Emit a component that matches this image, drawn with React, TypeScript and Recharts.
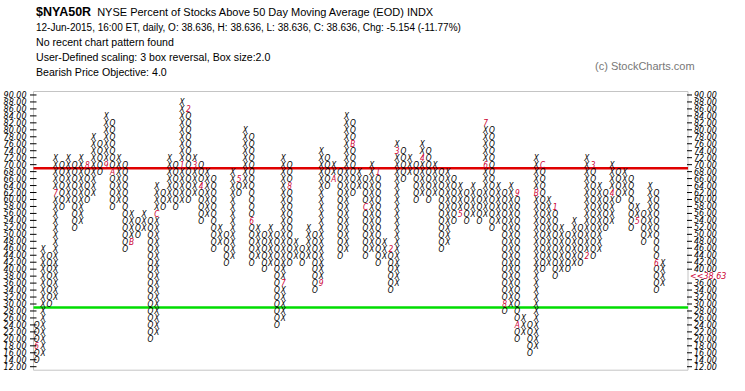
import React from "react";
import {
  ScatterChart,
  Scatter,
  XAxis,
  YAxis,
  CartesianGrid,
  ReferenceLine,
} from "recharts";

// Point & figure columns, left to right (box size 2, 3 box reversal)
const colKind = "OXOXOXOXOXOXOXOXOXOXOXOXOXOXOXOXOXOXOXOXOXOXOXOXOXOXOXOXOXOXOXOXOXOXOXOXOXOXOXOXOXOXOXOXOXOXOXOXOXOX".split("");
const colLow = [
  14, 16, 30, 32, 58, 60, 52, 54, 60, 62, 68, 70, 58, 60, 46, 48, 50, 52, 20, 22,
  58, 60, 58, 60, 60, 62, 54, 56, 46, 48, 42, 44, 62, 64, 42, 44, 40, 42, 24, 26,
  42, 44, 42, 44, 34, 36, 64, 66, 44, 46, 62, 64, 44, 46, 42, 44, 34, 36, 66, 68,
  60, 62, 60, 62, 46, 48, 54, 56, 54, 56, 54, 56, 52, 54, 28, 30, 20, 22, 16, 18,
  40, 42, 38, 40, 40, 42, 42, 44, 44, 46, 52, 54, 60, 62, 52, 54, 48, 50, 34, 36,
];
const colHigh = [
  24, 46, 44, 72, 70, 72, 70, 72, 70, 78, 76, 84, 82, 72, 70, 56, 54, 56, 54, 64,
  62, 72, 70, 88, 86, 72, 70, 68, 66, 52, 50, 68, 66, 80, 78, 52, 50, 52, 50, 72,
  70, 48, 46, 52, 50, 74, 72, 70, 68, 84, 82, 68, 66, 70, 68, 48, 46, 76, 74, 72,
  70, 76, 74, 70, 68, 68, 66, 64, 62, 64, 62, 82, 80, 64, 62, 64, 62, 26, 24, 72,
  70, 60, 58, 52, 50, 54, 52, 72, 70, 64, 62, 70, 68, 68, 66, 58, 56, 64, 62, 42,
];

// month markers: column, box value, label
const markCol = [0, 3, 8, 11, 12, 15, 19, 23, 24, 25, 26, 32, 34, 39, 40, 45, 47, 50, 52, 54, 56, 57, 61, 67, 71, 71, 74, 76, 76, 79, 80, 82, 87, 88, 91, 95, 98];
const markVal = [18, 62, 70, 70, 68, 48, 56, 70, 86, 70, 64, 66, 54, 36, 64, 36, 66, 76, 58, 68, 46, 74, 72, 56, 70, 82, 30, 62, 24, 62, 70, 58, 44, 70, 62, 54, 42];
const markText = ["6", "7", "8", "9", "A", "B", "C", "1", "2", "3", "4", "5", "6", "7", "8", "9", "A", "B", "C", "1", "2", "3", "4", "5", "6", "7", "8", "9", "A", "B", "C", "1", "2", "3", "4", "5", "6"];

const yearCol = [23, 54, 82];
const yearText = ["13", "14", "15"];

const priceTicks = [
  12, 14, 16, 18, 20, 22, 24, 26, 28, 30, 32, 34, 36, 38, 40, 42, 44, 46, 48, 50,
  52, 54, 56, 58, 60, 62, 64, 66, 68, 70, 72, 74, 76, 78, 80, 82, 84, 86, 88, 90,
];
const lastClose = 38.63;
const upperLine = 69;
const lowerLine = 29;

const BOX = 2;
const GRID_RIGHT = 103; // right border of grid, in column units
const Y_MIN = 11;
const Y_MAX = 91;

const points: { x: number; y: number; s: string; red: boolean }[] = [];
colKind.forEach((k, c) => {
  for (let v = colLow[c]; v <= colHigh[c]; v += BOX) {
    const mi = markCol.findIndex((mc, i) => mc === c && markVal[i] === v);
    points.push({ x: c, y: v, s: mi >= 0 ? markText[mi] : k, red: mi >= 0 });
  }
});

const gridX: number[] = [];
for (let g = -0.5; g <= GRID_RIGHT; g += 1) gridX.push(g);
const gridY: number[] = [];
for (let g = Y_MIN; g <= Y_MAX; g += BOX) gridY.push(g);

const axisFont = "DejaVu Sans";

const Glyph = (p: any) => (
  <text
    transform={`translate(${p.cx},${p.cy}) scale(0.8,1)`}
    dy={3.3}
    textAnchor="middle"
    fontFamily={axisFont}
    fontStyle="italic"
    fontSize={9.3}
    fill={p.payload.red ? "#cc0033" : "#000"}
  >
    {p.payload.s}
  </text>
);

const LeftTick = (p: any) => (
  <g>
    <line x1={p.x - 3.5} x2={p.x + 3} y1={p.y} y2={p.y} stroke="#000" />
    <text x={p.x - 7} y={p.y} dy={3} textAnchor="end" fontFamily={axisFont} fontStyle="italic" fontSize={8} fill="#000">
      {p.payload.value.toFixed(2)}
    </text>
  </g>
);

const RightTick = (p: any) =>
  p.payload.value === Math.floor(lastClose) ? (
    <text x={p.x + 2} y={p.y} dy={3} fontFamily={axisFont} fontStyle="italic" fontSize={8} fill="#cc0033">
      {"<<" + lastClose.toFixed(2)}
    </text>
  ) : (
    <g>
      <line x1={p.x - 1} x2={p.x + 4} y1={p.y} y2={p.y} stroke="#000" />
      <text x={p.x + 6} y={p.y} dy={3} fontFamily={axisFont} fontStyle="italic" fontSize={8} fill="#000">
        {p.payload.value.toFixed(2)}
      </text>
    </g>
  );

const YearTick = (p: any) => {
  const i = yearCol.indexOf(p.payload.value);
  return (
    <g>
      <line x1={p.x} x2={p.x} y1={p.y - 2} y2={p.y + 3} stroke="#444" />
      <text x={p.x} y={p.y + 12} textAnchor="middle" fontFamily={axisFont} fontSize={8} fill="#222">
        {yearText[i]}
      </text>
    </g>
  );
};

const headFont = "Liberation Sans, Arial, sans-serif";

export default function App() {
  return (
    <div style={{ position: "absolute", left: 0, top: 0, width: 745, height: 391, background: "#fff" }}>
      <svg width={745} height={100} style={{ position: "absolute", left: 0, top: 0 }}>
        <text x={36} y={16} fontFamily={headFont} fontSize={12.5} fontWeight="bold" fill="#000">
          $NYA50R
          <tspan fontWeight="normal" fontSize={11} dx={6}>
            NYSE Percent of Stocks Above 50 Day Moving Average (EOD)  INDX
          </tspan>
        </text>
        <text x={36} y={31} fontFamily={headFont} fontSize={10} fill="#000">
          12-Jun-2015, 16:00 ET, daily, O: 38.636, H: 38.636, L: 38.636, C: 38.636, Chg: -5.154 (-11.77%)
        </text>
        <text x={36} y={46} fontFamily={headFont} fontSize={10.6} fill="#000">
          No recent chart pattern found
        </text>
        <text x={36} y={61} fontFamily={headFont} fontSize={10.6} fill="#000">
          User-Defined scaling: 3 box reversal, Box size:2.0
        </text>
        <text x={36} y={76} fontFamily={headFont} fontSize={10.6} fill="#000">
          Bearish Price Objective: 4.0
        </text>
        <text x={595} y={70} fontFamily={headFont} fontSize={11} fill="#777">
          (c) StockCharts.com
        </text>
      </svg>
      <div style={{ position: "absolute", left: 0, top: 0 }}>
        <ScatterChart width={745} height={391} margin={{ top: 91.5, right: 0, bottom: 0, left: 0 }}>
          <XAxis xAxisId={0} type="number" dataKey="x" domain={[-0.5, GRID_RIGHT]} ticks={gridX} tick={false} tickLine={false} axisLine={false} height={0} allowDataOverflow />
          <XAxis xAxisId="yr" type="number" domain={[-0.5, GRID_RIGHT]} ticks={yearCol} tick={<YearTick />} tickSize={0} tickMargin={0} tickLine={false} axisLine={false} height={20.8} allowDataOverflow />
          <YAxis yAxisId={0} type="number" dataKey="y" domain={[Y_MIN, Y_MAX]} ticks={gridY} tick={false} tickLine={false} axisLine={false} width={0} allowDataOverflow />
          <YAxis yAxisId="left" orientation="left" type="number" domain={[Y_MIN, Y_MAX]} ticks={priceTicks} tick={<LeftTick />} tickSize={0} tickMargin={0} tickLine={false} axisLine={false} width={33.5} interval={0} allowDataOverflow />
          <YAxis yAxisId="right" orientation="right" type="number" domain={[Y_MIN, Y_MAX]} ticks={priceTicks} tick={<RightTick />} tickSize={0} tickMargin={0} tickLine={false} axisLine={false} width={57} interval={0} allowDataOverflow />
          <CartesianGrid stroke="#c4c4c4" strokeWidth={1} />
          <ReferenceLine y={upperLine} stroke="#e00000" strokeWidth={2.5} />
          <ReferenceLine y={lowerLine} stroke="#00dd00" strokeWidth={2.5} />
          <Scatter data={points} isAnimationActive={false} shape={<Glyph />} />
        </ScatterChart>
      </div>
    </div>
  );
}
